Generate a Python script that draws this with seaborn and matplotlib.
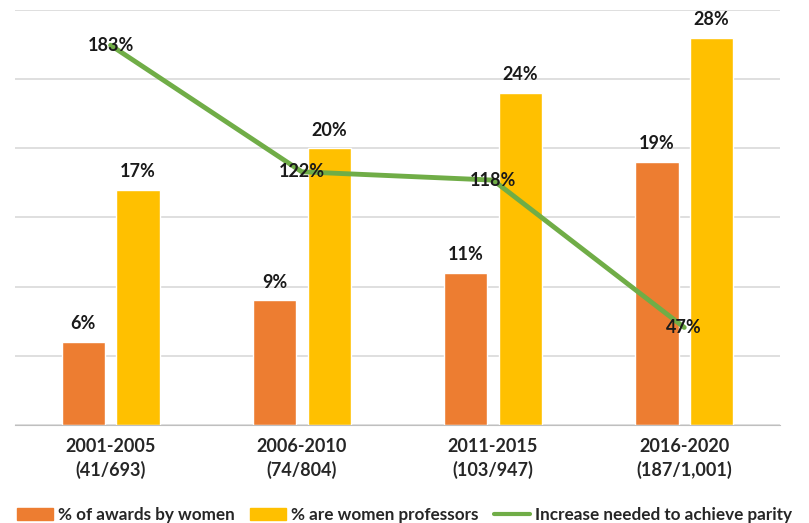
import numpy as np
import pandas as pd
import seaborn as sns
import matplotlib.pyplot as plt
from matplotlib.patches import Patch
from matplotlib.lines import Line2D

periods = ['2001-2005\n(41/693)', '2006-2010\n(74/804)', '2011-2015\n(103/947)', '2016-2020\n(187/1,001)']
awards_women = [6, 9, 11, 19]
women_profs = [17, 20, 24, 28]
parity_increase = [183, 122, 118, 47]

orange = '#ED7D31'
yellow = '#FFC000'
green = '#70AD47'

sns.set_style('white')
plt.rcParams['font.family'] = ['Lato', 'DejaVu Sans']

df = pd.DataFrame({
    'period': periods * 2,
    'value': awards_women + women_profs,
    'series': ['% of awards by women'] * 4 + ['% are women professors'] * 4,
})

fig = plt.figure(figsize=(8.09, 5.23), dpi=100)
ax = fig.add_axes([0.0185, 0.1874, 0.9455, 0.7936])

sns.barplot(data=df, x='period', y='value', hue='series', ax=ax,
            palette=[orange, yellow], width=0.572, gap=0.21, saturation=1)
ax.get_legend().remove()

ax2 = ax.twinx()
sns.lineplot(x=np.arange(4), y=parity_increase, ax=ax2, color=green, linewidth=3.5)
ax2.set_ylim(0, 200)
ax2.axis('off')
for i, v in enumerate(parity_increase):
    ax2.text(i, v, f'{v}%', ha='center', va='center', fontsize=13,
             fontweight='bold', color='#1a1a1a')

ax.set_ylim(0, 30)
ax.set_xlim(-0.5, 3.5)
ax.set_yticks(np.arange(0, 31, 5))
ax.yaxis.grid(True, color='#D9D9D9', linewidth=1.2)
ax.set_axisbelow(True)
ax.set_yticklabels([])
ax.tick_params(left=False, right=False, bottom=False)
for s in ['left', 'right', 'top']:
    ax.spines[s].set_visible(False)
ax.spines['bottom'].set_color('#BFBFBF')
ax.set_xlabel('')
ax.set_ylabel('')
ax.set_xticks(range(4))
ax.set_xticklabels(periods, fontsize=13, fontweight='bold', linespacing=1.4)
ax.tick_params(axis='x', pad=6)

for cont in ax.containers:
    ax.bar_label(cont, labels=[f'{v:.0f}%' for v in cont.datavalues],
                 padding=7, fontsize=13, fontweight='bold', color='#1a1a1a')

handles = [Patch(color=orange), Patch(color=yellow), Line2D([], [], color=green, linewidth=3)]
labels = ['% of awards by women', '% are women professors', 'Increase needed to achieve parity']
fig.legend(handles, labels, loc='lower center', bbox_to_anchor=(0.5, -0.03), ncol=3,
           frameon=False, prop={'size': 12.3, 'weight': 'bold'},
           handlelength=2.1, handletextpad=0.3, columnspacing=0.9)

fig.savefig('out.png', dpi=100)
